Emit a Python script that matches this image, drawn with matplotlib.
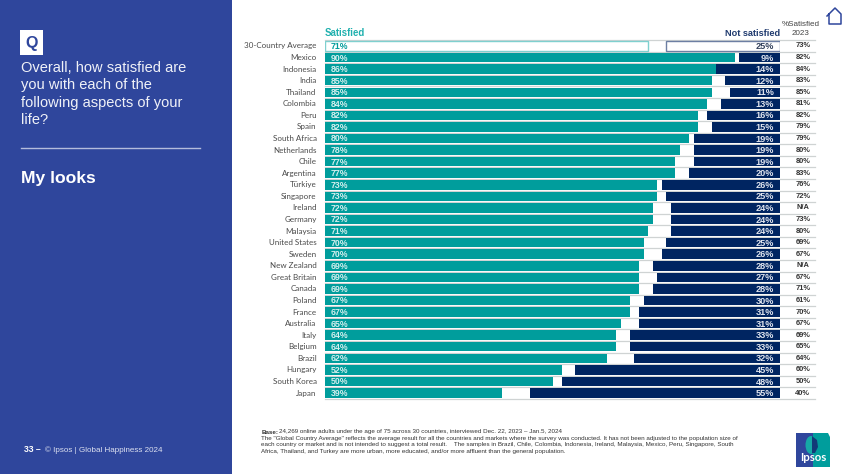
import matplotlib
matplotlib.use("Agg")
import matplotlib.pyplot as plt
from matplotlib.patches import Rectangle, Polygon, Ellipse
from matplotlib.lines import Line2D

plt.rcParams["font.family"] = ["Liberation Sans", "DejaVu Sans"]

countries = ["30-Country Average", "Mexico", "Indonesia", "India", "Thailand", "Colombia", "Peru", "Spain",
             "South Africa", "Netherlands", "Chile", "Argentina", "Türkiye", "Singapore", "Ireland", "Germany",
             "Malaysia", "United States", "Sweden", "New Zealand", "Great Britain", "Canada", "Poland", "France",
             "Australia", "Italy", "Belgium", "Brazil", "Hungary", "South Korea", "Japan"]
satisfied = [71, 90, 86, 85, 85, 84, 82, 82, 80, 78, 77, 77, 73, 73, 72, 72, 71, 70, 70, 69, 69, 69,
             67, 67, 65, 64, 64, 62, 52, 50, 39]
not_satisfied = [25, 9, 14, 12, 11, 13, 16, 15, 19, 19, 19, 20, 26, 25, 24, 24, 24, 25, 26, 28, 27, 28,
                 30, 31, 31, 33, 33, 32, 45, 48, 55]
prev_2023 = ["73%", "82%", "84%", "83%", "85%", "81%", "82%", "79%", "79%", "80%", "80%", "83%", "76%",
             "72%", "N/A", "73%", "80%", "69%", "67%", "N/A", "67%", "71%", "61%", "70%", "67%", "69%",
             "65%", "64%", "60%", "50%", "40%"]

W, H = 850, 474
BLUE = "#2f469c"
TEAL = "#009d9c"
NAVY = "#002561"
GREY = "#cfd3d3"
LABEL_FONT = ["Lato", "DejaVu Sans"]

fig = plt.figure(figsize=(W / 100, H / 100), dpi=100, facecolor="white")

# whole-figure layer in pixels, y going down
bg = fig.add_axes([0, 0, 1, 1])
bg.set_xlim(0, W)
bg.set_ylim(H, 0)
bg.axis("off")

# left panel
bg.add_patch(Rectangle((0, 0), 232, H, color=BLUE, lw=0))
bg.add_patch(Rectangle((20, 30), 23.5, 25, color="white", lw=0))
bg.text(31.5, 43, "Q", color=BLUE, fontsize=11.5, fontweight="bold", ha="center", va="center")
question = ["Overall, how satisfied are", "you with each of the", "following aspects of your", "life?"]
for i, line in enumerate(question):
    bg.text(21, 67.5 + i * 17.5, line, color="white", fontsize=10.5, va="center", alpha=0.93)
bg.add_line(Line2D([21, 200], [148, 148], color="#b4bcdc", lw=1))
bg.text(21, 178, "My looks", color="white", fontsize=12.6, fontweight="bold", va="center")
bg.text(24, 450, "33 –", color="white", fontsize=6.2, fontweight="bold", va="center")
bg.text(45, 450, "© Ipsos | Global Happiness 2024", color="#dde1f0", fontsize=5.8, va="center")

# chart
row_h = 11.57
y_top = 46 - row_h / 2
y_bot = 393 + row_h / 2
ax = fig.add_axes([325 / W, 1 - y_bot / H, 455 / W, (y_bot - y_top) / H])
ax.set_xlim(0, 100)
ax.set_ylim(len(countries) - 0.5, -0.5)
ax.axis("off")
ypos = list(range(len(countries)))

# grey separators run from the bars through the 2023 column
for y in range(len(countries) + 1):
    ax.plot([0, 107.7], [y - 0.5, y - 0.5], color=GREY, lw=0.9, clip_on=False, zorder=1)

for y in ypos:
    if y == 0:
        ax.barh(y, satisfied[y], height=0.82, color="white", edgecolor="#7fd0cf", lw=1, zorder=2)
        ax.barh(y, not_satisfied[y], left=100 - not_satisfied[y], height=0.82, color="white",
                edgecolor="#6d7fa3", lw=1, zorder=2)
        c_in = TEAL
        c_out = "#33415c"
    else:
        ax.barh(y, satisfied[y], height=0.82, color=TEAL, lw=0, zorder=2)
        ax.barh(y, not_satisfied[y], left=100 - not_satisfied[y], height=0.82, color=NAVY, lw=0, zorder=2)
        c_in = "#d5efee"
        c_out = "#dfe4ee"
    ax.text(1.2, y + 0.04, f"{satisfied[y]}%", color=c_in, fontsize=6.3, fontweight="bold", va="center", zorder=3)
    ax.text(98.7, y + 0.05, f"{not_satisfied[y]}%", color=c_out, fontsize=6.6, fontweight="bold", ha="right",
            va="center", zorder=3)
    ax.text(-1.85, y, countries[y], color="#4a4a4a", fontsize=5.8, ha="right", va="center", family=LABEL_FONT)
    ax.text(105, y, prev_2023[y], color="#333333", fontsize=5.4, fontweight="bold", ha="center", va="center")

# column headers
bg.text(325, 33, "Satisfied", color="#1fb0ae", fontsize=6.9, fontweight="bold", va="center")
bg.text(780, 33, "Not satisfied", color="#1f3a6e", fontsize=6.6, fontweight="bold", ha="right", va="center")
bg.text(801, 24, "%Satisfied", color="#444444", fontsize=5.8, ha="center", va="center")
bg.text(801, 33.5, "2023", color="#444444", fontsize=5.8, ha="center", va="center")

# home icon
bg.add_line(Line2D([827, 835, 841, 841, 829, 829], [16, 8, 14, 24, 24, 14], color="#2f469c", lw=1.1))

# footnote
notes = ["The \"Global Country Average\" reflects the average result for all the countries and markets where the survey was conducted. It has not been adjusted to the population size of",
         "each country or market and is not intended to suggest a total result.    The samples in Brazil, Chile, Colombia, Indonesia, Ireland, Malaysia, Mexico, Peru, Singapore, South",
         "Africa, Thailand, and Turkey are more urban, more educated, and/or more affluent than the general population."]
bg.text(261.5, 432, "Base:", color="#333333", fontsize=4.5, fontweight="bold", va="center")
bg.text(279, 432, "24,269 online adults under the age of 75 across 30 countries, interviewed Dec. 22, 2023 – Jan.5, 2024",
        color="#333333", fontsize=4.5, va="center")
for i, line in enumerate(notes):
    bg.text(261.5, 438.6 + i * 6.2, line, color="#333333", fontsize=4.5, va="center")

# Ipsos logo
bg.add_patch(Rectangle((796, 433), 17, 34, color=BLUE, lw=0))
bg.add_patch(Polygon([[813, 433], [828, 433], [830, 437], [830, 467], [813, 467]], color=TEAL, lw=0))
bg.add_patch(Ellipse((811, 445), 11, 18, color="#16a9a6", lw=0))
bg.add_patch(Polygon([[812, 436], [817, 440], [818, 447], [815, 453], [812, 453]], color="#123a78", lw=0))
bg.text(813.5, 457.5, "Ipsos", color="white", fontsize=8.2, fontweight="bold", ha="center", va="center",
        family=LABEL_FONT)

fig.savefig("out.png", dpi=100, facecolor="white")
